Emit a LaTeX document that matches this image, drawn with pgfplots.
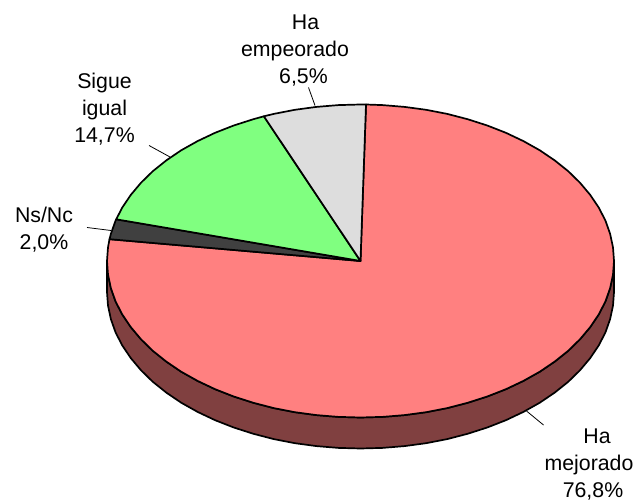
\documentclass[border=0pt]{standalone}
\usepackage{pgfplots}
\pgfplotsset{compat=1.18}
\usepackage{fontspec}
\setmainfont{Liberation Sans}
\definecolor{cred}{HTML}{FF8080}
\definecolor{cside}{HTML}{804040}
\definecolor{cgreen}{HTML}{80FF80}
\definecolor{cgray}{HTML}{DDDDDD}
\definecolor{cdark}{HTML}{404040}
\begin{document}
\begin{tikzpicture}[x=1pt,y=1pt]
\path[use as bounding box] (0,0) rectangle (637,502);
\begin{axis}[at={(0,0)},anchor=south west,scale only axis,width=637pt,height=502pt,
  xmin=0,xmax=637,ymin=0,ymax=502,y dir=reverse,hide axis,clip=false,
  every axis plot/.append style={line join=round,line width=1.7pt,draw=black}]
% side wall
\addplot[fill=cside] coordinates {(107,261)(108.0,274.6)(110.9,288.2)(115.6,301.5)(122.3,314.5)(130.8,327.1)(141.0,339.25)(152.8,350.8)(166.3,361.6)(181.2,371.7)(197.6,380.9)(215.1,389.2)(233.75,396.5)(253.4,402.8)(273.8,408.1)(294.9,412.2)(316.5,415.1)(338.4,416.9)(360.5,417.5)(382.6,416.9)(404.5,415.1)(426.1,412.2)(447.2,408.1)(467.6,402.8)(487.25,396.5)(505.9,389.2)(523.4,380.9)(539.8,371.7)(554.7,361.6)(568.2,350.8)(580.0,339.25)(590.2,327.1)(598.7,314.5)(605.4,301.5)(610.1,288.2)(613.0,274.6)(614,261)
(614,292)(613.0,305.6)(610.1,319.2)(605.4,332.5)(598.7,345.5)(590.2,358.1)(580.0,370.25)(568.2,381.8)(554.7,392.6)(539.8,402.7)(523.4,411.9)(505.9,420.2)(487.25,427.5)(467.6,433.8)(447.2,439.1)(426.1,443.2)(404.5,446.1)(382.6,447.9)(360.5,448.5)(338.4,447.9)(316.5,446.1)(294.9,443.2)(273.8,439.1)(253.4,433.8)(233.75,427.5)(215.1,420.2)(197.6,411.9)(181.2,402.7)(166.3,392.6)(152.8,381.8)(141.0,370.25)(130.8,358.1)(122.3,345.5)(115.6,332.5)(110.9,319.2)(108.0,305.6)(107,292)} -- cycle;
% Ha mejorado
\addplot[fill=cred] coordinates {(360.5,261)(366,104.5)(382.6,105.1)(404.5,106.9)(426.1,109.8)(447.2,113.9)(467.6,119.2)(487.25,125.5)(505.9,132.8)(523.4,141.1)(539.8,150.3)(554.7,160.4)(568.2,171.2)(580.0,182.75)(590.2,194.9)(598.7,207.5)(605.4,220.5)(610.1,233.8)(613.0,247.4)(614,261)(613.0,274.6)(610.1,288.2)(605.4,301.5)(598.7,314.5)(590.2,327.1)(580.0,339.25)(568.2,350.8)(554.7,361.6)(539.8,371.7)(523.4,380.9)(505.9,389.2)(487.25,396.5)(467.6,402.8)(447.2,408.1)(426.1,412.2)(404.5,415.1)(382.6,416.9)(360.5,417.5)(338.4,416.9)(316.5,415.1)(294.9,412.2)(273.8,408.1)(253.4,402.8)(233.75,396.5)(215.1,389.2)(197.6,380.9)(181.2,371.7)(166.3,361.6)(152.8,350.8)(141.0,339.25)(130.8,327.1)(122.3,314.5)(115.6,301.5)(110.9,288.2)(108.0,274.6)(107,261)(108.0,247.4)(109.5,239.2)} -- cycle;
% Ns/Nc
\addplot[fill=cdark] coordinates {(360.5,261)(109.5,239.2)(110.9,233.8)(115.6,220.5)(116.2,219.3)} -- cycle;
% Sigue igual
\addplot[fill=cgreen] coordinates {(360.5,261)(116.2,219.3)(122.3,207.5)(130.8,194.9)(141.0,182.75)(152.8,171.2)(166.3,160.4)(181.2,150.3)(197.6,141.1)(215.1,132.8)(233.75,125.5)(253.4,119.2)(263.9,116.3)} -- cycle;
% Ha empeorado
\addplot[fill=cgray] coordinates {(360.5,261)(263.9,116.3)(273.8,113.9)(294.9,109.8)(316.5,106.9)(338.4,105.1)(360.5,104.5)(366,104.5)} -- cycle;
% leaders
\addplot[line width=0.8pt] coordinates {(308.5,87.5)(315,105.5)};
\addplot[line width=0.8pt] coordinates {(149,145.5)(170,157)};
\addplot[line width=0.8pt] coordinates {(87,227.5)(111,230.5)};
\addplot[line width=0.8pt] coordinates {(526.5,411)(543.5,425)};
\begin{scope}[every node/.style={align=center,inner sep=0pt,font=\fontsize{21.3}{27}\selectfont,text=black}]
\node at (axis cs:295,50.5) {\hspace*{21pt}Ha\\empeorado\\\hspace*{17pt}6,5\%};
\node at (axis cs:104.5,109) {Sigue\\igual\\14,7\%};
\node at (axis cs:44,229.5) {Ns/Nc\\2,0\%};
\node at (axis cs:589,464.5) {\hspace*{16pt}Ha\\mejorado\\\hspace*{8pt}76,8\%};
\end{scope}
\end{axis}
\end{tikzpicture}
\end{document}
